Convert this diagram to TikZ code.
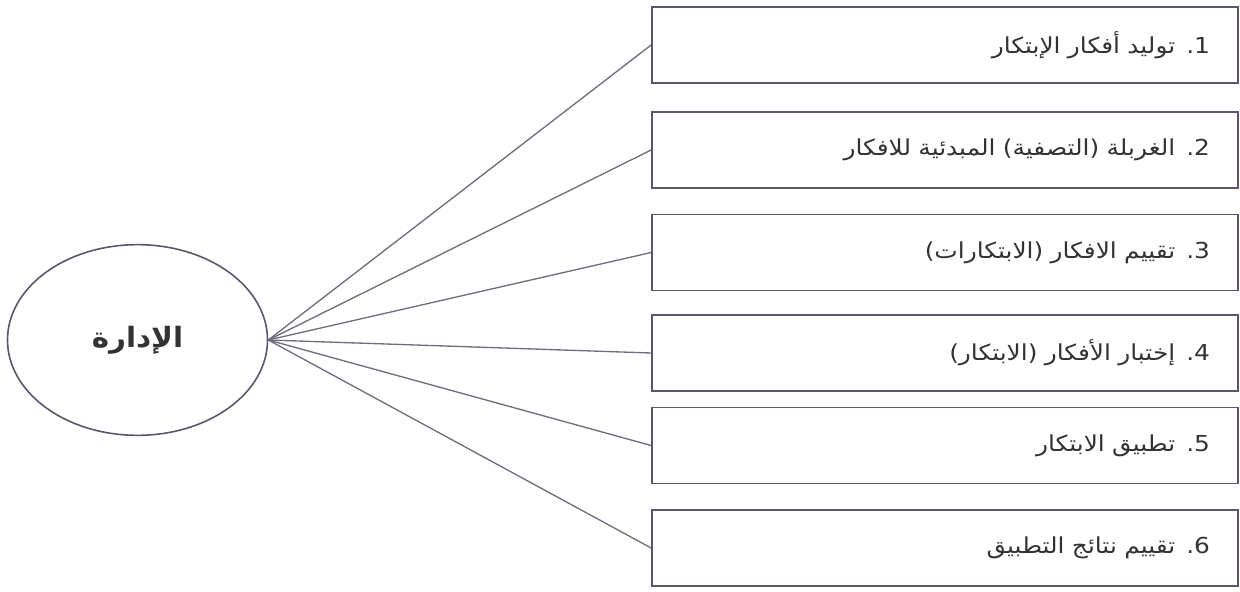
\documentclass[tikz,border=0pt]{standalone}
\usepackage{fontspec}
\usetikzlibrary{shapes.geometric}
\TeXXeTstate=1
\newfontfamily\arabicfont[Script=Arabic,FakeStretch=1.13]{DejaVu Sans}
\newfontfamily\arabichub[Script=Arabic,FakeStretch=1.05]{DejaVu Sans}
\definecolor{edgecol}{RGB}{88,88,108}
\definecolor{linecol}{RGB}{110,110,125}
\tikzset{
  stagebox/.style={draw=edgecol, line width=1.3pt, rectangle,
    minimum width=439.5pt, minimum height=57pt,
    text width=397.5pt, inner xsep=21pt, align=right,
    font=\arabicfont\fontsize{16.5}{19}\selectfont, text=black!80},
  hubell/.style={draw=edgecol, line width=1.2pt, ellipse,
    minimum width=195pt, minimum height=143pt, inner sep=0pt,
    font=\arabichub\bfseries\fontsize{21}{24}\selectfont, text=black!80},
  spoke/.style={draw=linecol, line width=1pt}
}
\begin{document}
\begin{tikzpicture}[x=0.75pt,y=-0.75pt]
\useasboundingbox (0,0) rectangle (1240,592);
\node[hubell] (hub) at (137.5,340) {\beginR الإدارة\endR};
\node[stagebox] (s1) at (945,45) {\beginR 1. توليد أفكار الإبتكار\endR};
\node[stagebox] (s2) at (945,150) {\beginR 2. الغربلة (التصفية) المبدئية للافكار\endR};
\node[stagebox] (s3) at (945,252.5) {\beginR 3. تقييم الافكار (الابتكارات)\endR};
\node[stagebox] (s4) at (945,353) {\beginR 4. إختبار الأفكار (الابتكار)\endR};
\node[stagebox] (s5) at (945,445.5) {\beginR 5. تطبيق الابتكار\endR};
\node[stagebox] (s6) at (945,548) {\beginR 6. تقييم نتائج التطبيق\endR};
\foreach \i in {1,...,6} {
  \draw[spoke] (hub.east) -- (s\i.west);
}
\end{tikzpicture}
\end{document}
